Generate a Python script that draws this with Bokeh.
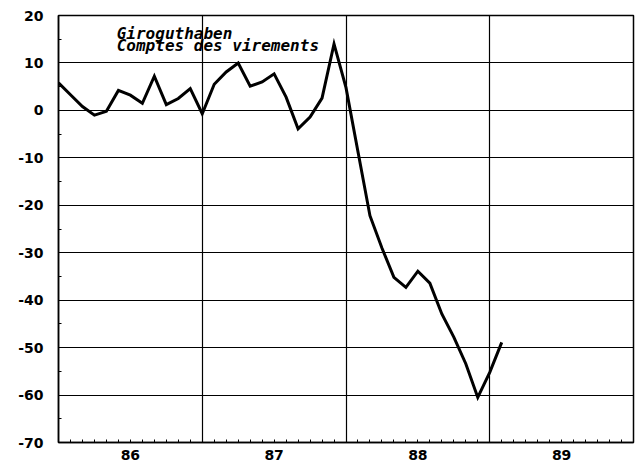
from bokeh.plotting import figure
from bokeh.models import FixedTicker, Grid, Label
from bokeh.embed import file_html
from bokeh.resources import INLINE

# Monthly values, Jan 1986 .. Feb 1989
start_year = 1986
values = [5.8, 3.3, 0.8, -1.0, -0.2, 4.2, 3.2, 1.5, 7.2, 1.2, 2.5, 4.6,
          -0.7, 5.5, 8.1, 10.0, 5.1, 6.0, 7.7, 2.8, -3.9, -1.4, 2.6, 14.0,
          4.8, -8.7, -22.2, -29.0, -35.2, -37.3, -33.9, -36.4, -42.9, -47.8, -53.4, -60.5,
          -55.2, -48.9]
months = [start_year + k / 12 for k in range(len(values))]

year_labels = ["86", "87", "88", "89"]
year_bounds = [1986, 1987, 1988, 1989, 1990]
y_ticks = list(range(-70, 21, 10))
title_lines = ["Giroguthaben", "Comptes des virements"]

p = figure(width=640, height=466, output_backend="svg", toolbar_location=None,
           x_range=(1986, 1990), y_range=(-70, 20),
           min_border_left=58, min_border_top=15, min_border_right=7, min_border_bottom=24)
p.outline_line_color = "black"
p.outline_line_width = 1.5
p.background_fill_color = "white"
p.border_fill_color = "white"

# x axis: labels centered in each year, monthly minor ticks
label_pos = [y + 0.5 for y in year_bounds[:-1]]
minor = [1986 + k / 12 for k in range(0, 49)]
p.xaxis.ticker = FixedTicker(ticks=label_pos, minor_ticks=minor)
p.xaxis.major_label_overrides = {pos: lab for pos, lab in zip(label_pos, year_labels)}
p.xaxis.major_tick_in = 0
p.xaxis.major_tick_out = 0
p.xaxis.minor_tick_in = 3
p.xaxis.minor_tick_out = 0
p.xaxis.axis_line_width = 1.5
p.xaxis.major_label_standoff = 7

# y axis
p.yaxis.ticker = FixedTicker(ticks=y_ticks, minor_ticks=list(range(-70, 21, 5)))
p.yaxis.major_label_overrides = {t: str(t) for t in y_ticks}
p.yaxis.major_tick_in = 0
p.yaxis.major_tick_out = 0
p.yaxis.minor_tick_in = 3
p.yaxis.minor_tick_out = 0
p.yaxis.axis_line_width = 1.5
p.yaxis.major_label_standoff = 15

for ax in (p.xaxis, p.yaxis):
    ax.major_label_text_font = "DejaVu Sans"
    ax.major_label_text_font_style = "bold"
    ax.major_label_text_font_size = "14px"
    ax.major_label_text_color = "black"
    ax.axis_line_color = "black"
    ax.minor_tick_line_color = "black"

# grids
p.xgrid.visible = False
p.ygrid.grid_line_color = "black"
p.ygrid.grid_line_width = 1.2
p.ygrid.grid_line_alpha = 1.0
vgrid = Grid(dimension=0, ticker=FixedTicker(ticks=year_bounds[1:-1]),
             grid_line_color="black", grid_line_width=1.2)
p.add_layout(vgrid)

p.line(months, values, line_color="black", line_width=3, line_join="miter")

for i, t in enumerate(title_lines):
    p.add_layout(Label(x=1986.405, y=16.3 - i * 2.6, text=t,
                       text_font="DejaVu Sans Mono", text_font_style="bold italic",
                       text_font_size="16px", text_color="black",
                       text_baseline="alphabetic"))

open("out.html", "w").write(file_html(p, INLINE))
